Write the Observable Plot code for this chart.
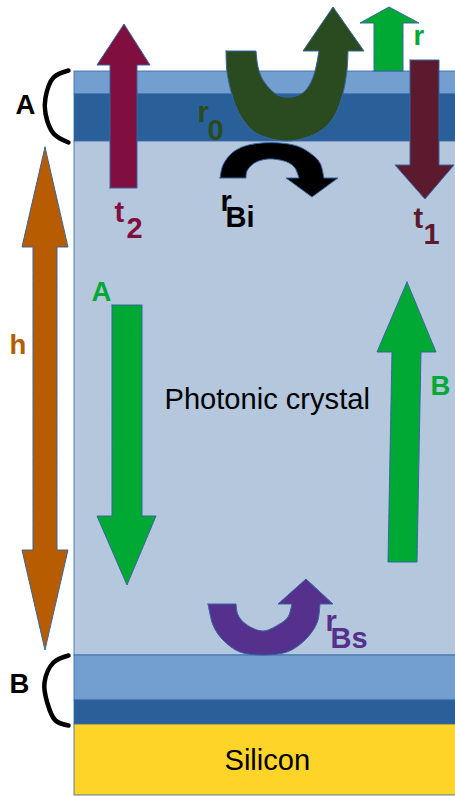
<!DOCTYPE html>
<html><head><meta charset="utf-8">
<script src="https://cdn.jsdelivr.net/npm/d3@7"></script>
<script src="https://cdn.jsdelivr.net/npm/@observablehq/plot@0.6"></script>
<style>html,body{margin:0;padding:0;background:#fff}svg{display:block}</style>
</head><body><div id="chart"></div>
<script>
const layerNames = ["topLight","topDark","crystal","botLight","botDark","silicon"];
const layerTop = [71,94,141,655,700,724];
const layerBottom = [94,141,655,700,724,795];
const layerColors = ["#729fcf","#2a6099","#b4c7dc","#729fcf","#2a6099","#ffd428"];

const arrowT2 = [[110,188],[110,65],[97,65],[124,24],[150,65],[137,65],[137,188],[110,188]];
const arrowH = [[45,147],[68,247],[57,247],[57,550],[68,550],[45,650],[22,550],[33,550],[33,247],[22,247],[45,147]];
const arrowA = [[112,305],[142,305],[142,516],[156,516],[127,585],[97,516],[112,516],[112,305]];
const arrowB = [[407,282],[436,352],[421,352],[417,562],[388,562],[392,352],[377,352],[407,282]];
const arrowR = [[374,71],[374,23],[360,23],[389,7],[419,23],[403,23],[403,71],[374,71]];
const arrowT1 = [[410,60],[439,60],[439,165],[454,165],[425,199],[395,165],[410,165],[410,60]];
const arrowR0 = [[226,51],[256,51],[258,67],[263,80],[272,91],[280,96],[288,97],[296,96],[305,91],[312,80],[316,67],[319,51],[303,51],[333,7],[364,51],[348,51],[347,70],[343,93],[335,115],[322,130],[305,138],[287,141],[268,138],[253,131],[240,115],[232,95],[227,72],[226,51]];
const arrowBi = [[220,178],[223,165],[232,153],[245,146],[262,143],[280,143],[297,146],[310,153],[320,163],[324,178],[338,178],[312,197],[286,178],[299,178],[295,168],[287,162],[273,159],[262,160],[253,164],[247,171],[246,178],[220,178]];
const arrowBs = [[208,604],[236,604],[238,615],[247,625],[263,631],[278,625],[288,617],[292,604],[278,604],[306,579],[333,604],[320,604],[317,623],[305,640],[287,652],[263,655],[240,652],[223,640],[213,625],[208,604]];

const bracketA = [[68,70],[53,77],[45,97],[45,113],[53,133],[68,142]];
const bracketB = [[68,655],[53,662],[44,682],[47,703],[55,720],[68,725]];

const shapes = [
  {points: arrowH, fill: "#b85c00"},
  {points: arrowT2, fill: "#800f3f"},
  {points: arrowA, fill: "#00a933"},
  {points: arrowB, fill: "#00a933"},
  {points: arrowR, fill: "#00a933"},
  {points: arrowT1, fill: "#5c1a2e"},
  {points: arrowR0, fill: "#2a4b1f"},
  {points: arrowBi, fill: "#000000"},
  {points: arrowBs, fill: "#55308d"}
];

const labelText = ["A","B","h","A","B","r","t","2","t","1","r","0","r","Bi","r","Bs","Photonic crystal","Silicon"];
const labelX = [15,9,9,91,430,413,114,126,413,423,197,207,220,225,325,330,164,224];
const labelY = [105,684,345,292,386,36,212,228,218,234,112,130,201,217,621,638,399,760];
const labelColor = ["#000","#000","#b85c00","#00a933","#00a933","#00a933","#800f3f","#800f3f","#5c1a2e","#5c1a2e","#2a4b1f","#2a4b1f","#000","#000","#55308d","#55308d","#000","#000"];
const labelWeight = ["bold","bold","bold","bold","bold","bold","bold","bold","bold","bold","bold","bold","bold","bold","bold","bold","normal","normal"];
const labelSize = [27.5,27.5,27.5,27.5,27.5,27.5,29,29,29,29,29,29,29,29,29,29,29.1,29.1];

const labels = labelText.map((t,i)=>({t,x:labelX[i],y:labelY[i],c:labelColor[i],w:labelWeight[i],s:labelSize[i]}));
const layers = layerNames.map((n,i)=>({n,y1:layerTop[i],y2:layerBottom[i],c:layerColors[i]}));

// Path curve: smooth between gentle bends, sharp at real corners.
function cornerCurve(ctx) {
  let pts = [];
  const flush = () => {
    const n = pts.length;
    if (!n) return;
    const isCorner = i => {
      if (i === 0 || i === n - 1) return true;
      const [a,b,c] = [pts[i-1],pts[i],pts[i+1]];
      const t1 = Math.atan2(b[1]-a[1],b[0]-a[0]), t2 = Math.atan2(c[1]-b[1],c[0]-b[0]);
      let d = Math.abs(t2-t1); if (d > Math.PI) d = 2*Math.PI-d;
      return d > 0.85;
    };
    ctx.moveTo(pts[0][0],pts[0][1]);
    let start = 0;
    for (let i = 1; i < n; i++) {
      if (!isCorner(i)) continue;
      const run = pts.slice(start,i+1);
      for (let j = 0; j < run.length-1; j++) {
        const p0 = run[Math.max(j-1,0)], p1 = run[j], p2 = run[j+1], p3 = run[Math.min(j+2,run.length-1)];
        ctx.bezierCurveTo(p1[0]+(p2[0]-p0[0])/6,p1[1]+(p2[1]-p0[1])/6,p2[0]-(p3[0]-p1[0])/6,p2[1]-(p3[1]-p1[1])/6,p2[0],p2[1]);
      }
      start = i;
    }
  };
  return {
    areaStart(){}, areaEnd(){},
    lineStart(){pts=[];},
    lineEnd(){flush();},
    point(x,y){pts.push([+x,+y]);}
  };
}

const plot = Plot.plot({
  width:455, height:796, margin:0,
  style:{background:"#fff"},
  x:{domain:[0,455],range:[0,455],axis:null},
  y:{domain:[0,796],range:[0,796],axis:null},
  marks:[
    Plot.rect(layers,{x1:74,x2:456,y1:"y1",y2:"y2",fill:"c",stroke:"#3465a4",strokeWidth:0.8}),
    ...shapes.map(s=>Plot.line(s.points,{fill:s.fill,stroke:"#3465a4",strokeWidth:1,curve:cornerCurve,dx:-0.5,dy:-0.5})),
    Plot.line(bracketA,{stroke:"#000",strokeWidth:4.5,curve:"catmull-rom"}),
    Plot.line(bracketB,{stroke:"#000",strokeWidth:4.5,curve:"catmull-rom"}),
    ...labels.map(l=>Plot.text([l],{x:"x",y:"y",text:"t",fill:l.c,textAnchor:"start",fontFamily:"Liberation Sans",fontWeight:l.w,fontSize:l.s}))
  ]
});
document.getElementById("chart").append(plot);
</script></body></html>
